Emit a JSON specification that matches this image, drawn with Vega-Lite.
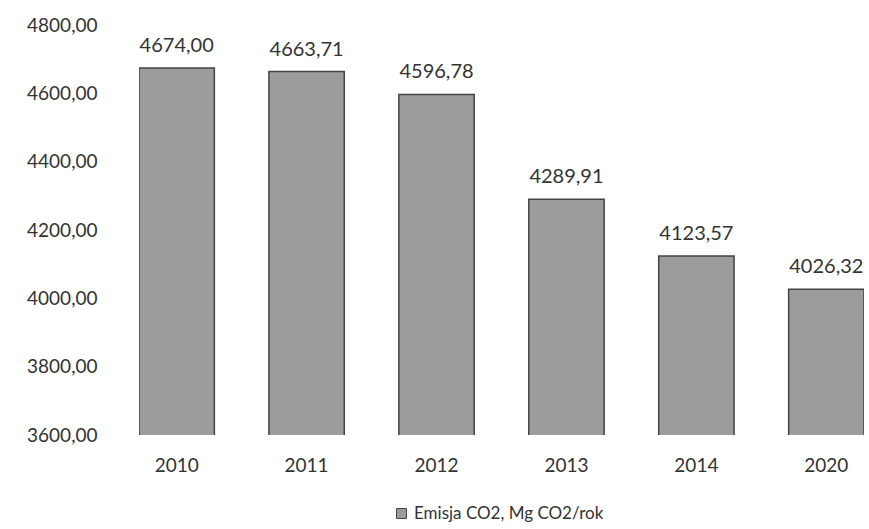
{
  "$schema": "https://vega.github.io/schema/vega-lite/v6.json",
  "autosize": "none",
  "padding": {"left": 139, "top": 25, "right": 5, "bottom": 94},
  "width": 725,
  "height": 410,
  "background": "white",
  "config": {
    "locale": {"number": {"decimal": ",", "thousands": "", "grouping": [3], "currency": ["", ""]}},
    "font": "Lato",
    "view": {"stroke": null}
  },
  "data": {
    "values": [
      {"rok": "2010", "emisja": 4674.00, "seria": "Emisja CO2, Mg CO2/rok"},
      {"rok": "2011", "emisja": 4663.71, "seria": "Emisja CO2, Mg CO2/rok"},
      {"rok": "2012", "emisja": 4596.78, "seria": "Emisja CO2, Mg CO2/rok"},
      {"rok": "2013", "emisja": 4289.91, "seria": "Emisja CO2, Mg CO2/rok"},
      {"rok": "2014", "emisja": 4123.57, "seria": "Emisja CO2, Mg CO2/rok"},
      {"rok": "2020", "emisja": 4026.32, "seria": "Emisja CO2, Mg CO2/rok"}
    ]
  },
  "encoding": {
    "x": {
      "field": "rok", "type": "nominal", "sort": null,
      "scale": {"paddingInner": 0.42, "paddingOuter": 0},
      "axis": {"title": null, "domain": false, "ticks": false, "labelAngle": 0, "labelFontSize": 19, "labelColor": "#333", "labelPadding": 21, "labelFont": "Lato"}
    },
    "y": {
      "field": "emisja", "type": "quantitative",
      "scale": {"domain": [3600, 4800], "zero": false, "nice": false},
      "axis": {"title": null, "domain": false, "ticks": false, "grid": false, "values": [3600, 3800, 4000, 4200, 4400, 4600, 4800], "format": ".2f", "labelFontSize": 19, "labelColor": "#333", "labelPadding": 42, "labelFont": "Lato"}
    }
  },
  "layer": [
    {
      "mark": {"type": "bar", "stroke": "#444", "strokeWidth": 1.5, "clip": true},
      "encoding": {
        "color": {
          "field": "seria", "type": "nominal",
          "scale": {"range": ["#9c9c9c"]},
          "legend": {"title": null, "orient": "none", "legendX": 254, "legendY": 480, "direction": "horizontal", "symbolType": "square", "symbolSize": 100, "symbolFillColor": "#9c9c9c", "symbolStrokeColor": "#444", "symbolStrokeWidth": 1, "labelFontSize": 17, "labelColor": "#333", "labelFont": "Lato", "labelLimit": 400}
        }
      }
    },
    {
      "mark": {"type": "text", "baseline": "alphabetic", "dy": -16, "fontSize": 20, "color": "#333", "font": "Lato"},
      "encoding": {
        "text": {"field": "emisja", "type": "quantitative", "format": ".2f"}
      }
    }
  ]
}
